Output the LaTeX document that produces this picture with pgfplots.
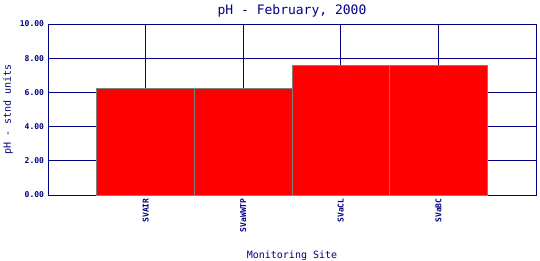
\documentclass[border=0pt]{standalone}
\usepackage{pgfplots}
\pgfplotsset{compat=1.18}
\usepackage{fontspec}
\setmainfont{DejaVu Sans Mono}
\setmonofont{DejaVu Sans Mono}
\definecolor{navy}{RGB}{0,0,128}
\definecolor{barred}{RGB}{255,0,0}
\begin{document}
\begin{tikzpicture}
\useasboundingbox (0,0) rectangle (540pt,260pt);
\begin{axis}[
  at={(48pt,65pt)}, anchor=south west,
  scale only axis, width=488pt, height=171pt,
  xmin=0, xmax=5, ymin=0, ymax=10,
  xtick={1,2,3,4},
  xticklabels={SVAIR,SVaWWTP,SVaCL,SVaBC},
  x tick label style={rotate=90, anchor=east, font=\fontsize{8}{9}\selectfont\bfseries, text=navy},
  ytick={0,2,4,6,8,10},
  yticklabel={\pgfmathprintnumber[fixed,fixed zerofill,precision=2]{\tick}},
  y tick label style={font=\fontsize{8}{9}\selectfont\bfseries, text=navy, xshift=-0.5pt},
  /pgf/number format/assume math mode=true,
  major tick length=0pt,
  grid=major,
  major grid style={navy, line width=0.9pt},
  axis line style={navy, line width=0.9pt},
  title={pH - February, 2000},
  title style={font=\fontsize{13}{15}\selectfont, text=navy, at={(0.5,1)}, anchor=south, yshift=-3pt},
  xlabel={Monitoring Site},
  xlabel style={font=\fontsize{10}{12}\selectfont, text=navy, at={(0.5,0)}, anchor=north, yshift=-52pt},
  ylabel={pH - stnd units},
  ylabel style={font=\fontsize{10}{12}\selectfont, text=navy, at={(axis description cs:0,0.5)}, anchor=center, yshift=40pt},
  ybar, bar width=1, bar shift=0pt,
]
\addplot[fill=barred, draw=gray, line width=0.8pt] coordinates {(1,6.25) (2,6.25) (3,7.6) (4,7.6)};
\end{axis}
\end{tikzpicture}
\end{document}
